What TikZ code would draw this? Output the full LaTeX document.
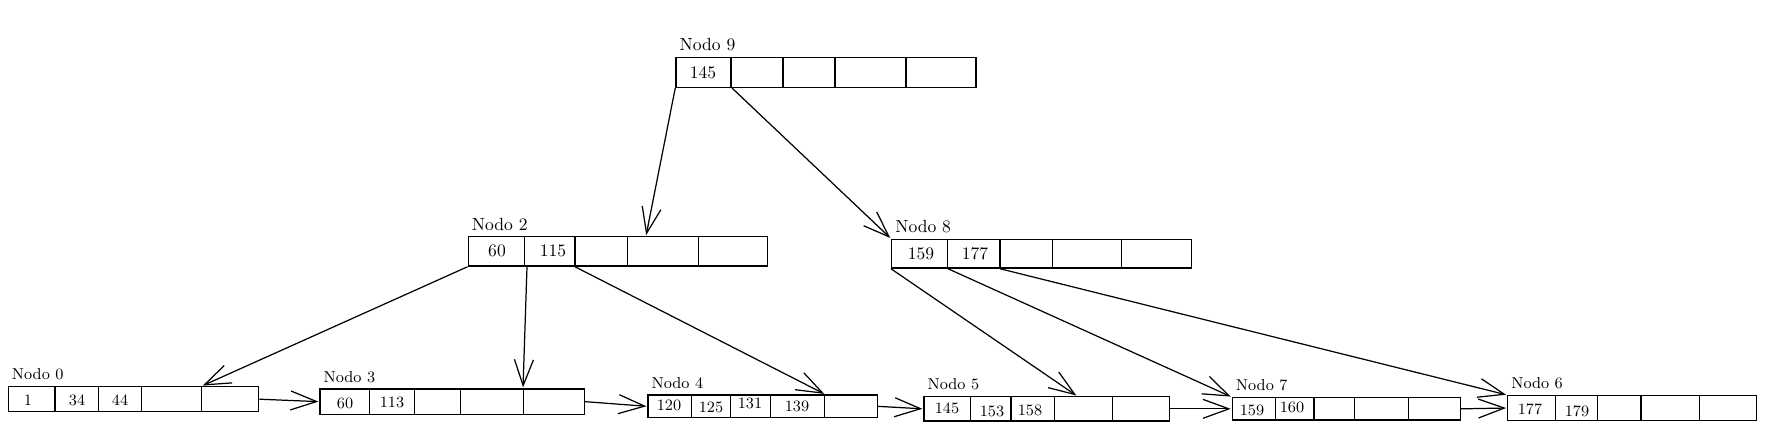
\documentclass[tikz,border=0pt]{standalone}
\usepackage{tikz}
\usetikzlibrary{arrows.meta, fit, positioning}

\tikzset{
	rec/.style={draw, line width=0.85pt, inner sep=0pt},
	sep/.style={line width=0.75pt},
	lbl/.style={anchor=south west, inner sep=0pt, xshift=2.3pt, yshift=3pt},
	key/.style={inner sep=0pt, font=\fontsize{10}{12}\selectfont},
	leafkey/.style={inner sep=0pt, font=\fontsize{9}{11}\selectfont},
	link/.style={line width=0.7pt, -{Straight Barb[length=5.2mm, width=3.8mm]}, shorten >=0.5pt},
}

% name, x0, y0, x1, y1, label, dividers
\newcommand{\bnode}[7]{%
	\node[rec, fit={(#2,#3) (#4,#5)}] (#1) {};
	\node[lbl] (#1l) at (#1.north west) {#6};
	\foreach \d in {#7}
		\draw[sep] (\d,#3) -- (\d,#5);
}

\begin{document}
\begin{tikzpicture}[x=0.02cm, y=-0.02cm]

\useasboundingbox (0,0) rectangle (1774,439);

% root
\bnode{n9}{676}{57.7}{976}{87.3}{\fontsize{10}{12}\selectfont Nodo 9}{731, 783, 835, 906}
\node[key] (n9k1) at (703,73) {145};

% inner nodes
\bnode{n2}{468.3}{236.7}{767.3}{266}{\fontsize{10}{12}\selectfont Nodo 2}{524.3, 575, 627.3, 698.7}
\node[key] (n2k1) at (497,251) {60};
\node[key] (n2k2) at (553,251) {115};

\bnode{n8}{891.7}{239.3}{1191.7}{268}{\fontsize{10}{12}\selectfont Nodo 8}{947.7, 1000, 1052.3, 1121.7}
\node[key] (n8k1) at (921,254) {159};
\node[key] (n8k2) at (975,254) {177};

% leaves
\bnode{n0}{8.3}{386.7}{258.7}{411.7}{\fontsize{9}{11}\selectfont Nodo 0}{55, 98.3, 141.7, 201.7}
\node[leafkey] (n0k1) at (28,400) {1};
\node[leafkey] (n0k2) at (77,400) {34};
\node[leafkey] (n0k3) at (120,400) {44};

\bnode{n3}{320}{389}{584.3}{414.3}{\fontsize{9}{11}\selectfont Nodo 3}{369.3, 414.3, 460.7, 523.3}
\node[leafkey] (n3k1) at (345,403) {60};
\node[leafkey] (n3k2) at (392,402) {113};

\bnode{n4}{648}{395}{877.3}{417.7}{\fontsize{9}{11}\selectfont Nodo 4}{691.3, 730.3, 770.3, 824.3}
\node[leafkey] (n4k1) at (669,405) {120};
\node[leafkey] (n4k2) at (711,407) {125};
\node[leafkey] (n4k3) at (750,403) {131};
\node[leafkey] (n4k4) at (797,406) {139};

\bnode{n5}{924}{396.7}{1169.3}{421}{\fontsize{9}{11}\selectfont Nodo 5}{970.7, 1011, 1054.3, 1112.3}
\node[leafkey] (n5k1) at (947,408) {145};
\node[leafkey] (n5k2) at (992,411) {153};
\node[leafkey] (n5k3) at (1030,410) {158};

\bnode{n7}{1232.3}{397.7}{1460.3}{420}{\fontsize{9}{11}\selectfont Nodo 7}{1275.7, 1314, 1354.3, 1408.3}
\node[leafkey] (n7k1) at (1252,410) {159};
\node[leafkey] (n7k2) at (1292,407) {160};

\bnode{n6}{1507.7}{395.7}{1756.7}{420.3}{\fontsize{9}{11}\selectfont Nodo 6}{1555.3, 1597.3, 1641, 1699.3}
\node[leafkey] (n6k1) at (1530,409) {177};
\node[leafkey] (n6k2) at (1577,411) {179};

% child pointers
\draw[link] (n9.south west) -- (n2.north -| 646,0);
\draw[link] (n9.south -| 732,0) -- (n8.north west);

\draw[link] (n2.south west) -- (n0.north -| 202,0);
\draw[link] (n2.south -| 527,0) -- (n3.north -| 523,0);
\draw[link] (n2.south -| 575,0) -- (n4.north -| 825,0);

\draw[link] (n8.south west) -- (n5.north -| 1077,0);
\draw[link] (n8.south -| 948,0) -- (n7.north west);
\draw[link] (n8.south -| 1000,0) -- (n6.north west);

% leaf chain
\draw[link] (n0.east) -- (n3.west);
\draw[link] (n3.east) -- (n4.west);
\draw[link] (n4.east) -- (n5.west);
\draw[link] (n5.east) -- (n7.west);
\draw[link] (n7.east) -- (n6.west);

\end{tikzpicture}
\end{document}
